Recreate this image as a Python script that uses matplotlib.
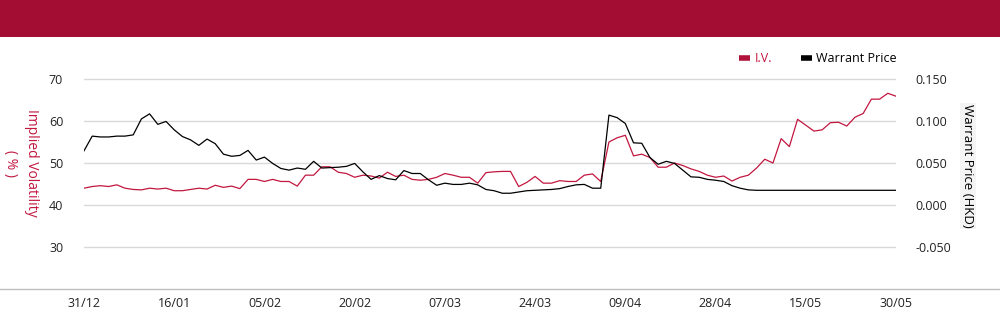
import numpy as np
import matplotlib.pyplot as plt
from matplotlib.patches import Rectangle
from matplotlib.lines import Line2D

plt.rcParams['font.family'] = ['Open Sans', 'DejaVu Sans']

# Data (one point per trading day)
iv = [44.0, 44.4, 44.6, 44.4, 44.8, 44.0, 43.7, 43.6, 44.0, 43.8,
      44.0, 43.4, 43.4, 43.7, 44.0, 43.8, 44.7, 44.2, 44.5, 43.9,
      46.1, 46.1, 45.6, 46.1, 45.6, 45.6, 44.5, 47.1, 47.1, 49.1,
      49.1, 47.8, 47.5, 46.6, 47.1, 46.9, 46.4, 47.8, 46.8, 47.1,
      46.1, 45.9, 46.1, 46.6, 47.5, 47.1, 46.6, 46.6, 45.2, 47.7,
      47.9, 48.0, 48.0, 44.4, 45.4, 46.8, 45.2, 45.2, 45.8, 45.6,
      45.6, 47.1, 47.4, 45.6, 55.0, 56.0, 56.6, 51.7, 52.1, 51.3,
      49.0, 49.0, 50.0, 49.4, 48.6, 48.0, 47.1, 46.6, 46.9, 45.7,
      46.6, 47.1, 48.8, 50.9, 50.0, 55.8, 53.9, 60.4, 59.0, 57.6,
      57.9, 59.6, 59.7, 58.8, 60.9, 61.8, 65.2, 65.2, 66.6, 65.9]

warrant = [0.0645, 0.082, 0.081, 0.081, 0.082, 0.082, 0.0835, 0.1025, 0.1085, 0.096,
           0.0995, 0.0895, 0.0815, 0.0775, 0.071, 0.0785, 0.073, 0.0605, 0.058, 0.059,
           0.065, 0.0535, 0.057, 0.0495, 0.0435, 0.0415, 0.044, 0.0425, 0.052, 0.044,
           0.0445, 0.045, 0.046, 0.0495, 0.0395, 0.0305, 0.035, 0.0315, 0.030, 0.041,
           0.0375, 0.0375, 0.030, 0.0235, 0.026, 0.0245, 0.0245, 0.026, 0.024, 0.0185,
           0.017, 0.014, 0.014, 0.0155, 0.017, 0.0175, 0.018, 0.0185, 0.0195, 0.022,
           0.024, 0.0245, 0.020, 0.020, 0.107, 0.104, 0.097, 0.074, 0.0735, 0.0565,
           0.0485, 0.052, 0.0495, 0.0415, 0.0335, 0.033, 0.0305, 0.0295, 0.028, 0.023,
           0.020, 0.018, 0.0175, 0.0175, 0.0175, 0.0175, 0.0175, 0.0175, 0.0175, 0.0175,
           0.0175, 0.0175, 0.0175, 0.0175, 0.0175, 0.0175, 0.0175, 0.0175, 0.0175, 0.0175]

tick_labels = ['31/12', '16/01', '05/02', '20/02', '07/03',
               '24/03', '09/04', '28/04', '15/05', '30/05']
iv_ticks = [30, 40, 50, 60, 70]
price_ticks = [-0.05, 0.0, 0.05, 0.10, 0.15]

RED = '#C2173F'
BANNER = '#A30D33'

fig = plt.figure(figsize=(10, 3.24), dpi=100)
ax = fig.add_axes([0.084, 35 / 324, 0.812, 252 / 324])
ax2 = ax.twinx()

x = np.arange(len(iv))
ax.plot(x, iv, color=RED, lw=0.9, zorder=3)
ax2.plot(x, warrant, color='black', lw=0.9, zorder=3)

ax.set_xlim(0, len(iv) - 1)
ax.set_ylim(20, 80)
ax2.set_ylim(-0.1, 0.2)

ax.set_yticks(iv_ticks)
ax.set_yticklabels([str(v) for v in iv_ticks])
ax2.set_yticks(price_ticks)
ax2.set_yticklabels(['%.3f' % v for v in price_ticks])
ax.set_xticks(np.arange(0, len(iv), 11))
ax.set_xticklabels(tick_labels)

ax.grid(axis='y', color='#D9D9D9', lw=1)
ax.set_axisbelow(True)
for a in (ax, ax2):
    for s in a.spines.values():
        s.set_visible(False)
    a.tick_params(length=0, labelsize=9, colors='#222222')
ax.tick_params(axis='y', pad=15)
ax.tick_params(axis='x', pad=6)
ax2.tick_params(axis='y', pad=14)

# full-width bottom axis line
fig.add_artist(Line2D([0, 1], [35 / 324, 35 / 324], transform=fig.transFigure,
                      color='#BFBFBF', lw=1))

# top banner
fig.add_artist(Rectangle((0, 1 - 37 / 324), 1, 37 / 324, transform=fig.transFigure,
                         color=BANNER, lw=0))

# axis titles
fig.text(0.021, 1 - 163 / 324, 'Implied Volatility\n( % )', color=RED, fontsize=10,
         rotation=270, ha='center', va='center', linespacing=1.5)
fig.text(0.968, 1 - 166 / 324, 'Warrant Price (HKD)', color='black', fontsize=9.5,
         rotation=270, ha='center', va='center',
         bbox=dict(facecolor='#F4F4F4', edgecolor='none', pad=1))

handles = [Line2D([], [], color='#B0123A', lw=4, solid_capstyle='butt'),
           Line2D([], [], color='black', lw=4, solid_capstyle='butt')]
leg = fig.legend(handles, ['I.V.', 'Warrant Price'], ncol=2, frameon=False,
                 loc='center right', bbox_to_anchor=(0.897, 1 - 59 / 324),
                 borderaxespad=0, borderpad=0,
                 handlelength=0.9, handletextpad=0.35, columnspacing=2.3, fontsize=9)
leg.get_texts()[0].set_color(RED)

fig.savefig('out.png', dpi=100)
